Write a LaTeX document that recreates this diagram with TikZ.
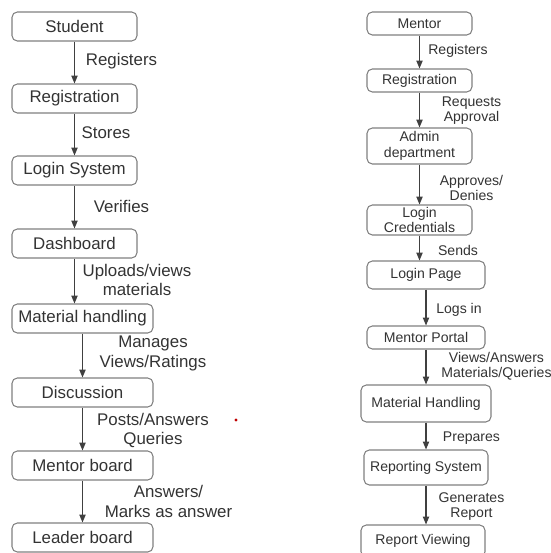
\documentclass[tikz,border=0pt]{standalone}
\usepackage{fontspec}
\setmainfont{Liberation Sans}
\usetikzlibrary{arrows.meta}

\begin{document}
\begin{tikzpicture}[x=0.02cm, y=-0.02cm,
  box/.style={draw=black!50, rounded corners=3pt, inner sep=0pt, align=center, text=black!80, line width=0.6pt},
  bigbox/.style={box, minimum height=0.58cm, font=\fontsize{9.6}{11}\selectfont},
  smallbox/.style={box, font=\fontsize{8}{9}\selectfont},
  flow/.style={-{Triangle[length=4.5pt, width=3.6pt]}, black!75, line width=0.6pt},
  lbl/.style={align=center, text=black!80, inner sep=0pt},
  biglbl/.style={lbl, font=\fontsize{9.6}{11}\selectfont},
  smalllbl/.style={lbl, font=\fontsize{8}{8.6}\selectfont}]

  \useasboundingbox (0,0) rectangle (550,553);

  % Student side
  \node[bigbox, minimum width=2.5cm] (student) at (74.5,26.5) {Student};
  \node[bigbox, minimum width=2.5cm] (sreg) at (74.5,98.5) {Registration};
  \node[bigbox, minimum width=2.5cm] (slogin) at (74.5,170.5) {Login System};
  \node[bigbox, minimum width=2.5cm] (dash) at (74.5,243.5) {Dashboard};
  \node[bigbox, minimum width=2.82cm] (smat) at (82.5,318.5) {Material handling};
  \node[bigbox, minimum width=2.82cm] (disc) at (82.5,392.5) {Discussion};
  \node[bigbox, minimum width=2.82cm] (mboard) at (82.5,465.5) {Mentor board};
  \node[bigbox, minimum width=2.82cm] (lboard) at (82.5,537.5) {Leader board};

  \draw[flow] (student) -- (sreg);
  \draw[flow] (sreg) -- (slogin);
  \draw[flow] (slogin) -- (dash);
  \draw[flow] (dash.south) -- (dash.south |- smat.north);
  \draw[flow] (smat) -- (disc);
  \draw[flow] (disc) -- (mboard);
  \draw[flow] (mboard) -- (lboard);

  \node[biglbl] (s1) at (121.5,61) {Registers};
  \node[biglbl] (s2) at (106,133) {Stores};
  \node[biglbl] (s3) at (121.5,206) {Verifies};
  \node[biglbl] (s4) at (137,280) {Uploads/views\\materials};
  \node[biglbl] (s5) at (153,353.5) {Manages\\Views/Ratings};
  \node[biglbl] (s6) at (153,430.5) {Posts/Answers\\Queries};
  \node[biglbl] (s7) at (168.5,501.5) {Answers/\\Marks as answer};

  % stray dot
  \fill[red!75!black] (236,420) circle (1.6);

  % Mentor side
  \node[smallbox, minimum width=2.1cm, minimum height=0.46cm] (mentor) at (419.5,23.5) {Mentor};
  \node[smallbox, minimum width=2.1cm, minimum height=0.46cm] (mreg) at (419.5,80.5) {Registration};
  \node[smallbox, minimum width=2.1cm, minimum height=0.72cm] (admin) at (419.5,146) {Admin\\department};
  \node[smallbox, minimum width=2.1cm, minimum height=0.6cm] (cred) at (419.5,220) {Login\\Credentials};
  \node[smallbox, minimum width=2.36cm, minimum height=0.56cm] (lpage) at (426,275) {Login Page};
  \node[smallbox, minimum width=2.36cm, minimum height=0.46cm] (portal) at (426,337.5) {Mentor Portal};
  \node[smallbox, minimum width=2.6cm, minimum height=0.74cm] (mmat) at (426,403.5) {Material Handling};
  \node[smallbox, minimum width=2.48cm, minimum height=0.7cm] (report) at (426,467.5) {Reporting System};
  \node[smallbox, minimum width=2.48cm, minimum height=0.64cm] (view) at (423,541) {Report Viewing};

  \draw[flow] (mentor) -- (mreg);
  \draw[flow] (mreg) -- (admin);
  \draw[flow] (admin) -- (cred);
  \draw[flow] (cred.south) -- (cred.south |- lpage.north);
  \draw[flow] (lpage) -- (portal);
  \draw[flow] (portal) -- (mmat);
  \draw[flow] (mmat) -- (report);
  \draw[flow] (report.south) -- (report.south |- view.north);

  \node[smalllbl] (m1) at (458,51) {Registers};
  \node[smalllbl] (m2) at (471.5,110.5) {Requests\\Approval};
  \node[smalllbl] (m3) at (471.5,188) {Approves/\\Denies};
  \node[smalllbl] (m4) at (458,250) {Sends};
  \node[smalllbl] (m5) at (459,310) {Logs in};
  \node[smalllbl] (m6) at (496.5,366.5) {Views/Answers\\Materials/Queries};
  \node[smalllbl] (m7) at (471.5,438) {Prepares};
  \node[smalllbl] (m8) at (471.5,506.5) {Generates\\Report};

\end{tikzpicture}
\end{document}
